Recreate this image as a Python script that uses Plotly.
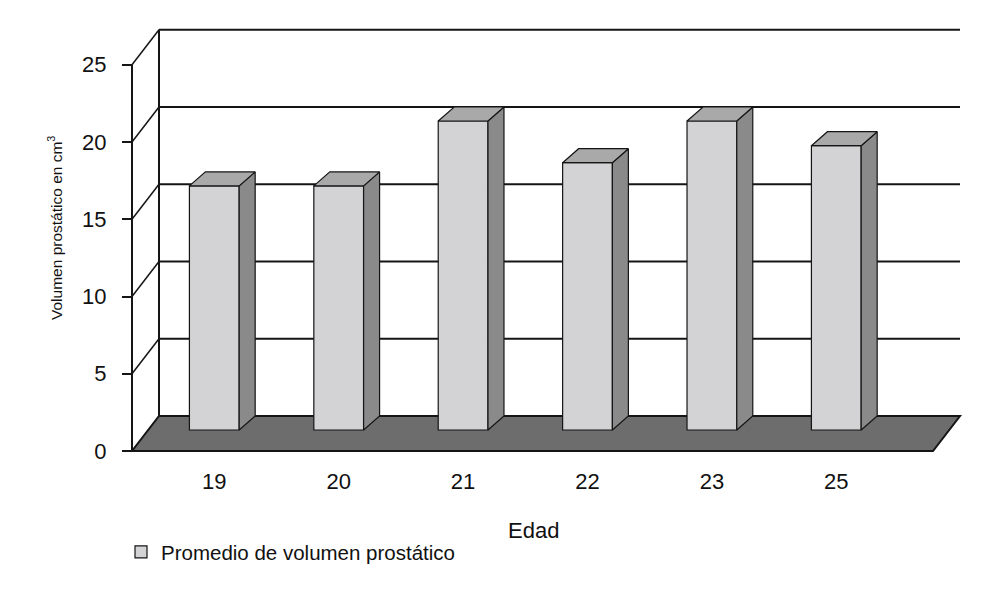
import plotly.graph_objects as go

# ---------------- data ----------------
categories = ["19", "20", "21", "22", "23", "25"]
volumes = [15.8, 15.8, 20.0, 17.3, 20.0, 18.4]
y_ticks = [0, 5, 10, 15, 20, 25]
series_name = "Promedio de volumen prostático"
y_title = "Volumen prostático en cm<sup>3</sup>"
x_title = "Edad"

# ---------------- geometry / style ----------------
OFF = 8                         # page body margin of the html page
W, H = 995 - 2 * OFF, 595 - 2 * OFF
# plot box in screen pixels
PL, PR, PT, PB = 120, 975, 20, 461
ML, MR, MT, MB = PL - OFF, W - (PR - OFF), PT - OFF, H - (PB - OFF)
PX_PER_CAT = 124.4
PX_PER_VAL = 15.45
X0_PX = 214.3          # screen pixel of first bar centre
Y0_PX = 451            # screen pixel of value 0 on the front plane
plot_w = PR - PL
plot_h = PB - PT
x_lo = (PL - X0_PX) / PX_PER_CAT
x_hi = (PR - X0_PX) / PX_PER_CAT
y_lo = (Y0_PX - PB) / PX_PER_VAL
y_hi = (Y0_PX - PT) / PX_PER_VAL

XL = (132 - X0_PX) / PX_PER_CAT     # front-left edge of the box
XR = (933 - X0_PX) / PX_PER_CAT     # front-right edge of the floor
WDX = 27 / PX_PER_CAT               # wall depth
WDY = 35 / PX_PER_VAL
BAR_W = 0.40
BAR_BASE = 21 / PX_PER_VAL
BDX = 16 / PX_PER_CAT               # bar depth
BDY = 14 / PX_PER_VAL

FONT = "Liberation Sans, Arial, Helvetica, sans-serif"
C_FRONT = "#d3d3d5"
C_SIDE = "#8a8a8a"
C_TOP = "#a9a9a9"
C_FLOOR = "#6d6d6d"
C_LINE = "#151515"


def px_x(px):
    return (px - PL) / plot_w


def px_y(py):
    return (PB - py) / plot_h


xs = list(range(len(categories)))
vmax = y_ticks[-1]

shapes = []
# back wall gridlines
for v in y_ticks[1:]:
    shapes.append(dict(type="line", xref="x", yref="y", layer="below",
                       x0=XL + WDX, y0=v + WDY, x1=XR + WDX, y1=v + WDY,
                       line=dict(color=C_LINE, width=2.2)))
# back wall left edge
shapes.append(dict(type="line", xref="x", yref="y", layer="below",
                   x0=XL + WDX, y0=WDY, x1=XL + WDX, y1=vmax + WDY,
                   line=dict(color=C_LINE, width=2)))
# left wall diagonals
for v in y_ticks[1:]:
    shapes.append(dict(type="line", xref="x", yref="y", layer="below",
                       x0=XL, y0=v, x1=XL + WDX, y1=v + WDY,
                       line=dict(color=C_LINE, width=1.5)))
# front axis line
shapes.append(dict(type="line", xref="x", yref="y", layer="below",
                   x0=XL, y0=0, x1=XL, y1=vmax,
                   line=dict(color=C_LINE, width=2)))
# floor
shapes.append(dict(type="path", xref="x", yref="y", layer="below",
                   path=(f"M{XL},0 L{XR},0 L{XR + WDX},{WDY} "
                         f"L{XL + WDX},{WDY} Z"),
                   fillcolor=C_FLOOR, line=dict(color=C_LINE, width=2)))

fig = go.Figure()

# front faces of the bars
fig.add_trace(go.Bar(
    x=xs, y=volumes, base=BAR_BASE, width=BAR_W, name=series_name,
    marker=dict(color=C_FRONT, line=dict(color=C_LINE, width=1.2)),
    showlegend=True, hoverinfo="skip"))

# side and top faces
for xi, v in zip(xs, volumes):
    xr = xi + BAR_W / 2
    xl = xi - BAR_W / 2
    yt = BAR_BASE + v
    fig.add_trace(go.Scatter(
        x=[xr, xr + BDX, xr + BDX, xr, xr],
        y=[BAR_BASE, BAR_BASE + BDY, yt + BDY, yt, BAR_BASE],
        mode="lines", fill="toself", fillcolor=C_SIDE,
        line=dict(color=C_LINE, width=1.2), showlegend=False, hoverinfo="skip"))
    fig.add_trace(go.Scatter(
        x=[xl, xr, xr + BDX, xl + BDX, xl],
        y=[yt, yt, yt + BDY, yt + BDY, yt],
        mode="lines", fill="toself", fillcolor=C_TOP,
        line=dict(color=C_LINE, width=1.2), showlegend=False, hoverinfo="skip"))

fig.update_layout(
    width=W, height=H,
    margin=dict(l=ML, r=MR, t=MT, b=MB, pad=0),
    paper_bgcolor="white", plot_bgcolor="white",
    font=dict(family=FONT, size=22, color="#111111"),
    shapes=shapes,
    xaxis=dict(range=[x_lo, x_hi], tickvals=xs, ticktext=categories,
               showgrid=False, zeroline=False, showline=False, ticks="",
               ticklabelstandoff=5, tickfont=dict(size=22), fixedrange=True),
    yaxis=dict(range=[y_lo, y_hi], tickvals=y_ticks,
               ticktext=[str(t) for t in y_ticks],
               anchor="free", position=px_x(132), side="left",
               showgrid=False, zeroline=False, showline=False,
               ticks="outside", ticklen=10, tickwidth=2, tickcolor=C_LINE,
               ticklabelstandoff=11, tickfont=dict(size=22), fixedrange=True),
    legend=dict(x=px_x(121), y=px_y(552), xanchor="left", yanchor="middle",
                font=dict(size=20.5), bgcolor="rgba(0,0,0,0)"),
    annotations=[
        dict(text=y_title, xref="paper", yref="paper", x=px_x(55), y=px_y(228),
             xanchor="center", yanchor="middle", textangle=-90,
             showarrow=False, font=dict(size=15.5)),
        dict(text=x_title, xref="paper", yref="paper", x=px_x(533), y=px_y(530),
             xanchor="center", yanchor="middle", showarrow=False,
             font=dict(size=22)),
    ],
)

fig.write_html("out.html")
